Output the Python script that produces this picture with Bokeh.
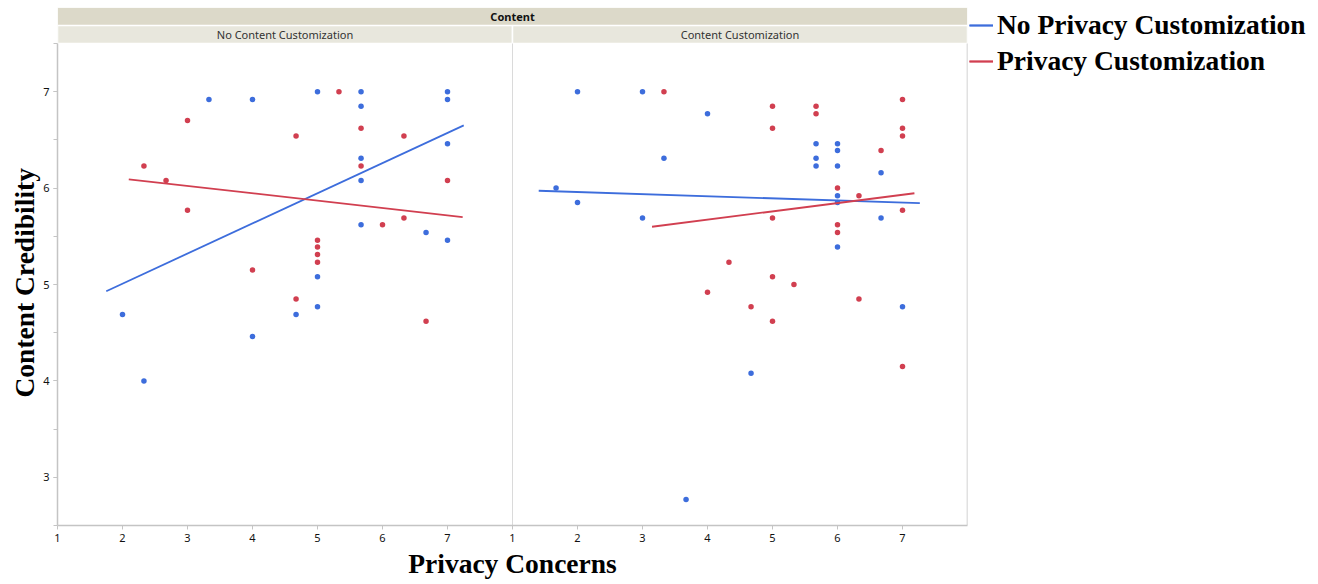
from bokeh.plotting import figure
from bokeh.models import (FixedTicker, CustomJSTickFormatter, Legend, LegendItem,
                          Range1d, Title)
from bokeh.core.properties import value
from bokeh.embed import file_html
from bokeh.resources import INLINE

# ---------------- data ----------------
facet_title = "Content"
panels = ["No Content Customization", "Content Customization"]
series = ["No Privacy Customization", "Privacy Customization"]
x_title = "Privacy Concerns"
y_title = "Content Credibility"

# Panel 1: No Content Customization
p1_nopriv_x = [2.0, 2.33, 3.33, 4.0, 4.0, 4.67, 5.0, 5.0, 5.0, 5.67, 5.67, 5.67, 5.67, 5.67, 6.67, 7.0, 7.0, 7.0, 7.0]
p1_nopriv_y = [4.69, 4.0, 6.92, 6.92, 4.46, 4.69, 7.0, 5.08, 4.77, 7.0, 6.85, 6.31, 6.08, 5.62, 5.54, 7.0, 6.92, 6.46, 5.46]
p1_priv_x = [2.33, 2.67, 3.0, 3.0, 4.0, 4.67, 4.67, 5.0, 5.0, 5.0, 5.0, 5.33, 5.67, 5.67, 6.0, 6.33, 6.33, 6.67, 7.0]
p1_priv_y = [6.23, 6.08, 6.70, 5.77, 5.15, 6.54, 4.85, 5.46, 5.39, 5.31, 5.23, 7.0, 6.62, 6.23, 5.62, 6.54, 5.69, 4.62, 6.08]

# Panel 2: Content Customization
p2_nopriv_x = [1.67, 2.0, 2.0, 3.0, 3.0, 3.33, 3.67, 4.0, 4.67, 5.67, 5.67, 5.67, 6.0, 6.0, 6.0, 6.0, 6.0, 6.0, 6.67, 6.67, 7.0]
p2_nopriv_y = [6.0, 7.0, 5.85, 7.0, 5.69, 6.31, 2.77, 6.77, 4.08, 6.46, 6.31, 6.23, 6.46, 6.39, 6.23, 5.92, 5.85, 5.39, 6.16, 5.69, 4.77]
p2_priv_x = [3.33, 4.0, 4.33, 4.67, 5.0, 5.0, 5.0, 5.0, 5.0, 5.33, 5.67, 5.67, 6.0, 6.0, 6.0, 6.33, 6.33, 6.67, 7.0, 7.0, 7.0, 7.0, 7.0]
p2_priv_y = [7.0, 4.92, 5.23, 4.77, 6.85, 6.62, 5.69, 5.08, 4.62, 5.0, 6.85, 6.77, 6.0, 5.62, 5.54, 5.92, 4.85, 6.39, 6.92, 6.62, 6.54, 5.77, 4.15]

# Linear fit lines (intercept, slope) per panel for each series
fit_nopriv_intercept = [4.383, 6.003]
fit_nopriv_slope = [0.3127, -0.0218]
fit_priv_intercept = [6.251, 5.328]
fit_priv_slope = [-0.0762, 0.0861]

x_ticks = [1, 2, 3, 4, 5, 6, 7]
y_ticks = [3, 4, 5, 6, 7]

# ---------------- style ----------------
BLUE = "#3d6ddc"
RED = "#d13f50"
AXIS = "#c4c4c4"
SERIF = "Liberation Serif"
SANS = "Noto Sans"
TITLE_SIZE = "27.5px"

X_LO, X_HI = 1, 8           # each panel spans 1..8
Y_LO, Y_HI = 2.5, 7.5
PX_PER_Y = 482 / 5.0
HDR_SUB = 18 / PX_PER_Y
HDR_TOP = 36 / PX_PER_Y
panel_w = X_HI - X_LO

p = figure(frame_width=910, frame_height=518,
           x_range=Range1d(X_LO, X_LO + 2 * panel_w),
           y_range=Range1d(Y_LO, Y_HI + HDR_TOP),
           output_backend="svg", toolbar_location=None,
           min_border_left=57, min_border_right=5,
           min_border_top=7, min_border_bottom=57)
p.outline_line_color = None
p.grid.visible = False
p.background_fill_color = "white"
p.border_fill_color = "white"

# facet headers
total_right = X_LO + 2 * panel_w
p.quad(left=[X_LO], right=[total_right], bottom=[Y_HI + HDR_SUB], top=[Y_HI + HDR_TOP],
       fill_color="#dcd9c9", line_color="#ffffff", line_width=1)
sub_left = [X_LO + i * panel_w for i in range(len(panels))]
sub_right = [X_LO + (i + 1) * panel_w for i in range(len(panels))]
p.quad(left=sub_left, right=sub_right, bottom=[Y_HI] * 2, top=[Y_HI + HDR_SUB] * 2,
       fill_color="#e8e7dd", line_color="#ffffff", line_width=1.5)
p.text(x=[X_LO + panel_w], y=[Y_HI + (HDR_SUB + HDR_TOP) / 2], text=[facet_title],
       text_align="center", text_baseline="middle", text_font=value(SANS),
       text_font_style="bold", text_font_size="11px", text_color="#111111")
p.text(x=[(a + b) / 2 for a, b in zip(sub_left, sub_right)], y=[Y_HI + HDR_SUB / 2] * 2,
       text=panels, text_align="center", text_baseline="middle", text_font=value(SANS),
       text_font_size="11px", text_color="#333333")

# panel divider and right border
p.segment(x0=[X_LO + panel_w, total_right], y0=[Y_LO, Y_LO],
          x1=[X_LO + panel_w, total_right], y1=[Y_HI, Y_HI],
          line_color=["#dadada", AXIS], line_width=[1, 1.5])

panel_data = [
    (p1_nopriv_x, p1_nopriv_y, p1_priv_x, p1_priv_y),
    (p2_nopriv_x, p2_nopriv_y, p2_priv_x, p2_priv_y),
]

blue_lines, red_lines = [], []
for i, (bx, by, rx, ry) in enumerate(panel_data):
    off = i * panel_w
    p.scatter([v + off for v in bx], by, size=5.5, color=BLUE, line_color=None)
    p.scatter([v + off for v in rx], ry, size=5.5, color=RED, line_color=None)

for i, (bx, by, rx, ry) in enumerate(panel_data):
    off = i * panel_w
    for xs, a, b, col, store in [
        (bx, fit_nopriv_intercept[i], fit_nopriv_slope[i], BLUE, blue_lines),
        (rx, fit_priv_intercept[i], fit_priv_slope[i], RED, red_lines),
    ]:
        lo, hi = min(xs), max(xs)
        ext = 0.05 * (hi - lo)
        xe = [lo - ext, hi + ext]
        ye = [a + b * v for v in xe]
        r = p.line([v + off for v in xe], ye, line_color=col, line_width=1.8)
        store.append(r)

# axes
p.xaxis.ticker = FixedTicker(ticks=[t + i * panel_w for i in range(2) for t in x_ticks], minor_ticks=[])
p.xaxis.formatter = CustomJSTickFormatter(code="return String((Math.round(tick) - 1) % 7 + 1);")
p.yaxis.ticker = FixedTicker(ticks=y_ticks, minor_ticks=[Y_LO + 0.5 * k for k in range(11)])
p.yaxis.bounds = (Y_LO, Y_HI)
for ax in (p.xaxis, p.yaxis):
    ax.axis_line_color = AXIS
    ax.axis_line_width = 1.5
    ax.major_tick_line_color = AXIS
    ax.minor_tick_line_color = AXIS
    ax.major_tick_out = 4
    ax.major_tick_in = 0
    ax.minor_tick_out = 4
    ax.minor_tick_in = 0
    ax.major_label_text_font = SANS
    ax.major_label_text_font_size = "11px"
    ax.major_label_text_color = "#111111"
p.xaxis.axis_label = x_title
p.xaxis.axis_label_text_font = SERIF
p.xaxis.axis_label_text_font_style = "bold"
p.xaxis.axis_label_text_font_size = TITLE_SIZE
p.xaxis.axis_label_text_color = "#000000"
p.xaxis.major_label_standoff = 4
p.xaxis.axis_label_standoff = 3
p.yaxis.major_label_standoff = 4

# y title centred on the data area (not on the header rows)
y_title_obj = Title(text=y_title, align="left", offset=128, standoff=0,
                    vertical_align="middle",
                    text_font=SERIF, text_font_style="bold",
                    text_font_size=TITLE_SIZE, text_color="#000000")
p.add_layout(y_title_obj, "left")

legend = Legend(items=[LegendItem(label=series[0], renderers=blue_lines),
                       LegendItem(label=series[1], renderers=red_lines)],
                location="top_left", margin=2, padding=0,
                border_line_color=None, background_fill_alpha=0,
                label_text_font=SERIF, label_text_font_style="bold",
                label_text_font_size=TITLE_SIZE, label_text_color="#000000",
                glyph_width=24, label_standoff=4, spacing=4)
p.add_layout(legend, "right")

open("out.html", "w").write(file_html(p, INLINE))
